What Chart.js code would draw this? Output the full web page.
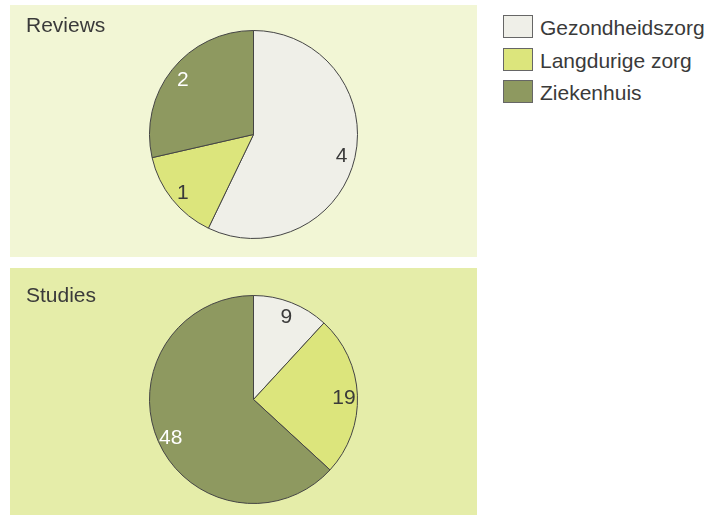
<!DOCTYPE html>
<html>
<head>
<meta charset="utf-8">
<script src="https://cdn.jsdelivr.net/npm/chart.js@4"></script>
<style>
  body { margin: 0; background: #fff; font-family: "Liberation Sans", Arial, sans-serif; }
  .panel { position: absolute; left: 10px; width: 467px; }
  .panel .title { position: absolute; left: 16px; font-size: 21px; line-height: 23px; color: #3a3a3a; }
  #p1 { top: 5px; height: 252px; background: #f2f6d5; }
  #p2 { top: 268px; height: 247px; background: #e5eda9; }
  #p1 .title { top: 8px; }
  #p2 .title { top: 15px; }
  canvas { position: absolute; left: 0; top: 0; }
  #legend { position: absolute; left: 503px; top: 15px; font-size: 21px; line-height: 23px; color: #3a3a3a; }
  .item { height: 32.5px; position: relative; }
  .box { position: absolute; left: 0; top: 0; width: 30px; height: 23px; border: 1px solid #666; box-sizing: border-box; }
  .lab { position: absolute; left: 37px; top: 1px; white-space: nowrap; }
</style>
</head>
<body>
<div class="panel" id="p1"><canvas id="c1" width="467" height="252"></canvas><div class="title">Reviews</div></div>
<div class="panel" id="p2"><canvas id="c2" width="467" height="247"></canvas><div class="title">Studies</div></div>
<div id="legend"></div>
<script>
// categories and counts
const categories = ['Gezondheidszorg', 'Langdurige zorg', 'Ziekenhuis'];
const reviews = [4, 1, 2];
const studies = [9, 19, 48];
const sliceColors = ['#efefe8', '#dce57c', '#8e9960'];
const labelColors = ['#3a3a3a', '#3a3a3a', '#ffffff'];

// draw the counts inside each slice
const sliceLabels = {
    id: 'sliceLabels',
    afterDatasetsDraw(chart) {
        const ctx = chart.ctx;
        const meta = chart.getDatasetMeta(0);
        ctx.save();
        ctx.font = '21px "Liberation Sans", Arial, sans-serif';
        ctx.textAlign = 'center';
        ctx.textBaseline = 'middle';
        meta.data.forEach((arc, i) => {
            const p = arc.getProps(['x', 'y', 'startAngle', 'endAngle', 'outerRadius'], true);
            const mid = (p.startAngle + p.endAngle) / 2;
            const r = p.outerRadius * 0.87;
            ctx.fillStyle = labelColors[i];
            ctx.fillText(String(chart.data.datasets[0].data[i]), p.x + Math.cos(mid) * r, p.y + Math.sin(mid) * r + 2);
        });
        ctx.restore();
    }
};

function makePie(id, values, padding) {
    return new Chart(document.getElementById(id), {
        type: 'pie',
        data: {
            labels: categories,
            datasets: [{
                data: values,
                backgroundColor: sliceColors,
                borderColor: '#444',
                borderWidth: 1
            }]
        },
        options: {
            responsive: false,
            animation: false,
            layout: { padding: padding },
            plugins: { legend: { display: false }, tooltip: { enabled: false } }
        },
        plugins: [sliceLabels]
    });
}

makePie('c1', reviews, { left: 139, right: 119, top: 25, bottom: 18 });
makePie('c2', studies, { left: 139, right: 119, top: 27, bottom: 11 });

// legend
const legend = document.getElementById('legend');
categories.forEach((c, i) => {
    const item = document.createElement('div');
    item.className = 'item';
    item.innerHTML = '<div class="box" style="background:' + sliceColors[i] + '"></div><div class="lab">' + c + '</div>';
    legend.appendChild(item);
});
</script>
</body>
</html>
